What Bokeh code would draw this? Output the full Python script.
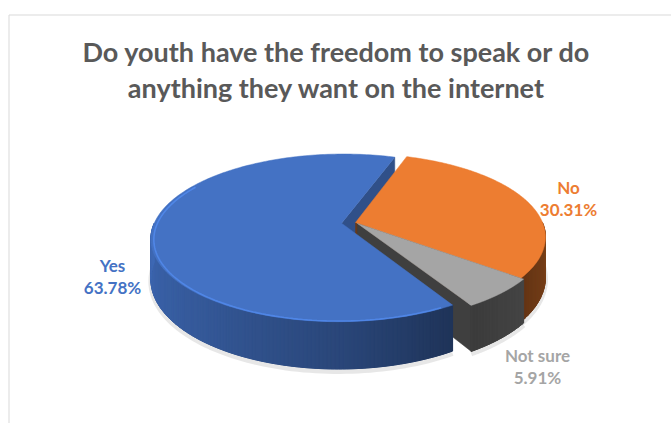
import numpy as np
from bokeh.plotting import figure
from bokeh.models import Range1d
from bokeh.embed import file_html
from bokeh.resources import INLINE
from bokeh.core.properties import value

# ---------------- data ----------------
categories = ["Yes", "No", "Not sure"]
values = [63.78, 30.31, 5.91]
title_lines = ["Do youth have the freedom to speak or do",
               "anything they want on the internet"]

# ---------------- style / layout ----------------
base_colors = [(68, 114, 196), (237, 125, 49), (165, 165, 165)]
label_colors = ["#4472C4", "#ED7D31", "#A5A5A5"]
explode = [0.075, 0.0, 0.015]
side_stops = [([149, 180, 220, 270], [0.45, 0.62, 0.78, 0.92]),
              ([90, 128], [0.56, 0.42]),
              ([128, 149], [0.42, 0.36])]
side_mean = [0.62, 0.5, 0.39]
face_f = [0.70, 0.45, 0.38]
label_pos = [(112, 265, 287), (568, 187, 209), (537, 355, 377)]

FIRST_ANGLE = 149.0
CX, CY, RX, RY, K, H = 355.0, 222.0, 187.0, 81.0, 0.175, 39.0
FONT = "Lato"


def hexc(rgb, f):
    r, g, b = [int(max(0, min(255, round(c * f)))) for c in rgb]
    return "#%02x%02x%02x" % (r, g, b)


def proj(theta, rad, z, off):
    t = np.radians(theta)
    u = rad * np.sin(t) + off[0]
    v = -rad * np.cos(t) + off[1]
    w = 1.0 / (1.0 - K * v)
    return CX + RX * u * w, CY + (RY * v + z) * w


p = figure(width=671, height=423, x_range=Range1d(0, 671), y_range=Range1d(423, 0),
           output_backend="svg", toolbar_location=None, min_border=0,
           x_axis_type=None, y_axis_type=None)
p.grid.visible = False
p.outline_line_color = None
p.background_fill_color = "white"
p.border_fill_color = "white"

# chart area border
p.segment(x0=[8.5, 8.5], y0=[14.5, 14.5], x1=[671, 8.5], y1=[14.5, 423],
          line_color="#D9D9D9", line_width=1)

total = sum(values)
starts, ends, offs = [], [], []
a = FIRST_ANGLE
for i, v in enumerate(values):
    span = v / total * 360.0
    starts.append(a)
    ends.append(a + span)
    mid = np.radians(a + span / 2)
    offs.append((explode[i] * np.sin(mid), -explode[i] * np.cos(mid)))
    a += span


def visible_ranges(i):
    out = []
    for k in (0.0, 360.0):
        lo, hi = max(starts[i], 90 + k), min(ends[i], 270 + k)
        if hi > lo:
            out.append((lo, hi))
    return out


# soft shadow under the pie
for i in range(len(values)):
    for lo, hi in visible_ranges(i):
        th = np.linspace(lo, hi, 80)
        xs, ys = proj(th, 1.0, H + 2, offs[i])
        p.line(xs, ys, line_color="#CFCFCF", line_width=5, line_alpha=0.5)

# radial faces
fx, fy, fc = [], [], []
for i in range(len(values)):
    for ang, vis in ((starts[i], np.sin(np.radians(starts[i])) < 0),
                     (ends[i], np.sin(np.radians(ends[i])) > 0)):
        if vis:
            x0, y0 = proj(ang, 0.0, 0.0, offs[i])
            x1, y1 = proj(ang, 1.0, 0.0, offs[i])
            x2, y2 = proj(ang, 1.0, H, offs[i])
            x3, y3 = proj(ang, 0.0, H, offs[i])
            fx.append([x0, x1, x2, x3])
            fy.append([y0, y1, y2, y3])
            fc.append(hexc(base_colors[i], face_f[i]))
p.patches(fx, fy, fill_color=fc, line_color=fc, line_width=0.5)

# outer rim walls: a solid base band, then gradient strips on top
bx, by, bc = [], [], []
rx_, ry_, rc = [], [], []
for i in range(len(values)):
    for lo, hi in visible_ranges(i):
        th = np.linspace(lo, hi, 100)
        xt, yt = proj(th, 1.0, 0.0, offs[i])
        xb, yb = proj(th[::-1], 1.0, H, offs[i])
        bx.append(list(xt) + list(xb)); by.append(list(yt) + list(yb))
        bc.append(hexc(base_colors[i], side_mean[i]))
        n = max(2, int((hi - lo) / 1.0))
        ths = np.linspace(lo, hi, n + 1)
        for j in range(n):
            t0, t1 = ths[j], ths[j + 1]
            xa, ya = proj(np.array([t0, t1, t1, t0]), 1.0,
                          np.array([0, 0, H, H]), offs[i])
            tm = ((t0 + t1) / 2) % 360
            f = np.interp(tm, *side_stops[i])
            rx_.append(list(xa)); ry_.append(list(ya))
            rc.append(hexc(base_colors[i], f))
p.patches(bx, by, fill_color=bc, line_color=bc, line_width=0.5)
p.patches(rx_, ry_, fill_color=rc, line_color=rc, line_width=1.0)

# top faces
tx, ty, tc = [], [], []
for i in range(len(values)):
    th = np.linspace(starts[i], ends[i], 200)
    xs, ys = proj(th, 1.0, 0.0, offs[i])
    cx0, cy0 = proj(0.0, 0.0, 0.0, offs[i])
    tx.append([cx0] + list(xs)); ty.append([cy0] + list(ys))
    tc.append(hexc(base_colors[i], 1.0))
p.patches(tx, ty, fill_color=tc, line_color=tc, line_width=0.5)

# bevel highlight on the Yes rim
th = np.linspace(max(starts[0], 152), 300, 120)
hx, hy = proj(th, 0.985, 1.0, offs[0])
p.line(hx, hy, line_color=hexc(base_colors[0], 1.22), line_width=1.6, line_alpha=0.8)

# title
p.text(x=[336, 336], y=[51, 87], text=title_lines, text_color="#595959",
       text_font=value(FONT), text_font_style="bold", text_font_size="27px",
       text_align="center", text_baseline="alphabetic")

# data labels
for i, c in enumerate(categories):
    lx, y1, y2 = label_pos[i]
    pct = f"{values[i]:.2f}%"
    p.text(x=[lx, lx], y=[y1, y2], text=[c, pct], text_color=label_colors[i],
           text_font=value(FONT), text_font_style="bold", text_font_size="17px",
           text_align="center", text_baseline="alphabetic")

open("out.html", "w").write(file_html(p, INLINE))
